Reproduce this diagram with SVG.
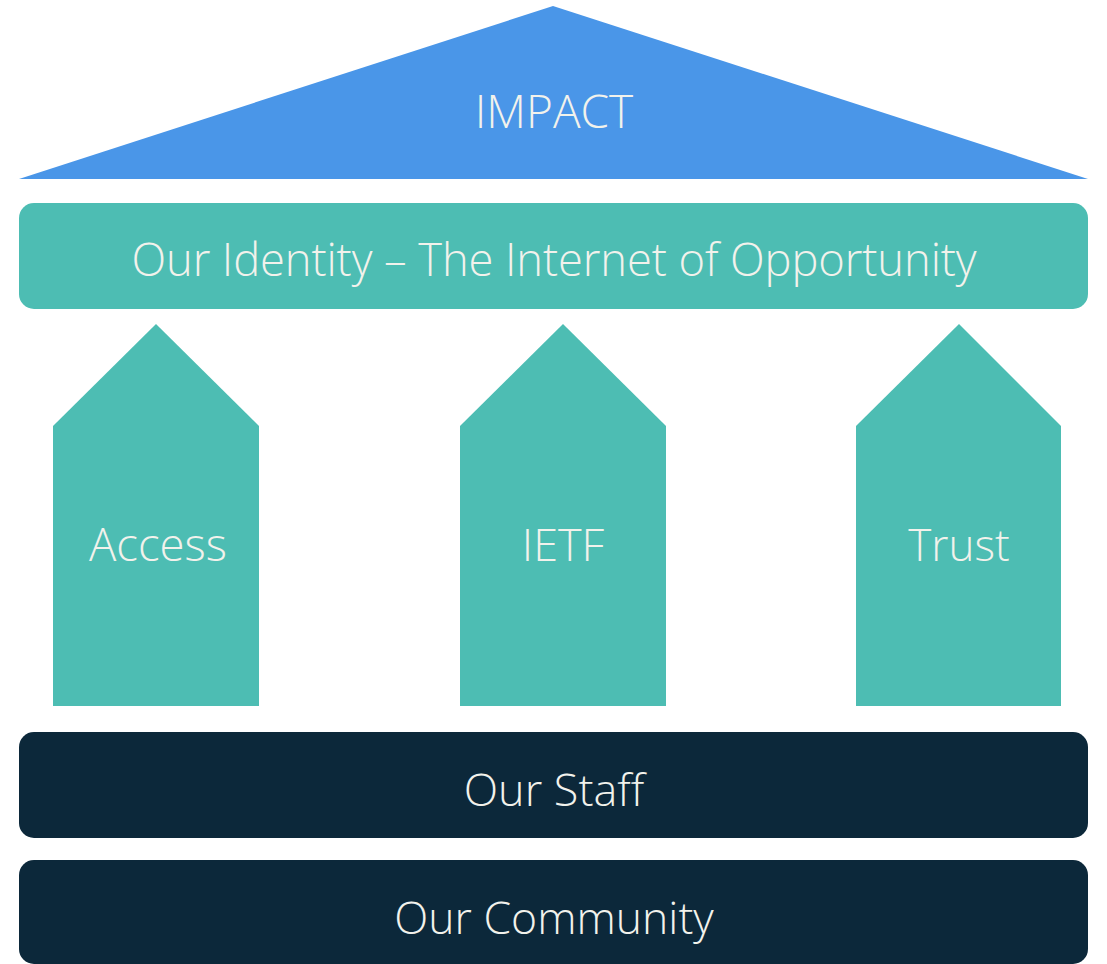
<svg xmlns="http://www.w3.org/2000/svg" width="1107" height="964" viewBox="0 0 1107 964">
<style>
.t{font-family:"Open Sans","Liberation Sans",sans-serif;font-weight:300;fill:#F2F2EC;text-anchor:middle}
.teal{fill:#4DBDB3}
.navy{fill:#0C283A}
</style>
<rect width="1107" height="964" fill="#FFFFFF"/>
<g id="impact">
<polygon points="553,6 1088,179 19,179" fill="#4A96E8"/>
<text class="t" x="554" y="128" font-size="46">IMPACT</text>
</g>
<g id="identity">
<rect class="teal" x="19" y="203" width="1069" height="106" rx="15"/>
<text class="t" x="554" y="276" font-size="45.3" letter-spacing="-0.1">Our Identity – The Internet of Opportunity</text>
</g>
<g id="access">
<polygon class="teal" points="156,324 259,426 259,706 53,706 53,426"/>
<text class="t" x="158" y="561" font-size="45.5">Access</text>
</g>
<g id="ietf">
<polygon class="teal" points="563,324 666,426 666,706 460,706 460,426"/>
<text class="t" x="563" y="561" font-size="45">IETF</text>
</g>
<g id="trust">
<polygon class="teal" points="959,324 1061,426 1061,706 856,706 856,426"/>
<text class="t" x="959" y="561" font-size="44">Trust</text>
</g>
<g id="staff">
<rect class="navy" x="19" y="732" width="1069" height="106" rx="15"/>
<text class="t" x="554" y="806" font-size="45">Our Staff</text>
</g>
<g id="community">
<rect class="navy" x="19" y="860" width="1069" height="104" rx="15"/>
<text class="t" x="554" y="934" font-size="44.5">Our Community</text>
</g>
<g id="connectors"/>
</svg>
